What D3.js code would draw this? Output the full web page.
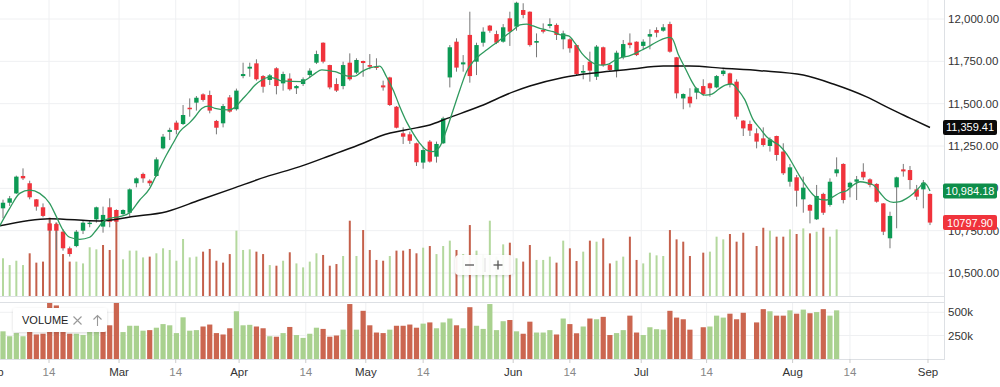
<!DOCTYPE html>
<html>
<head>
<meta charset="utf-8">
<script src="https://cdn.jsdelivr.net/npm/d3@7"></script>
<style>
  html, body { margin: 0; padding: 0; background: #fff; }
  svg { display: block; font-family: "Liberation Sans", Arial, sans-serif; }
</style>
</head>
<body>
<svg id="chart" width="1000" height="387"></svg>
<script>
// Candle data, one entry per trading session (index 0..139)
const opens = [10882,10915,10970,11073,11030,10935,10888,10793,10789,10744,
  10646,10659,10750,10789,10817,10774,10888,10872,10848,10856,
  11030,11085,11045,11073,11236,11333,11388,11380,11476,11506,
  11555,11551,11398,11384,11537,11467,11663,11707,11738,11663,
  11640,11709,11620,11648,11591,11616,11669,11742,11860,11728,
  11616,11604,11742,11683,11752,11728,11718,11608,11655,11482,
  11325,11319,11266,11152,11276,11187,11266,11655,11866,11732,
  11906,11748,11860,11961,11911,11866,12004,11955,12053,12043,
  11860,11935,11959,11965,11880,11880,11846,11683,11748,11659,
  11833,11728,11695,11774,11860,11866,11841,11896,11935,11931,
  11970,11774,11531,11541,11565,11604,11620,11596,11675,11679,
  11630,11400,11380,11325,11295,11250,11309,11217,11039,11065,
  10935,10902,10817,10967,10902,11089,11144,11006,11039,11098,
  11053,11026,10911,10705,11006,11112,11108,10994,10994,10967];
const highs = [10933,10955,11075,11118,11045,10937,10911,10813,10797,10758,
  10656,10754,10809,10809,10892,10892,10941,10876,10876,11000,
  11065,11093,11053,11183,11321,11358,11400,11492,11531,11545,
  11561,11577,11404,11498,11551,11589,11742,11742,11762,11669,
  11675,11715,11689,11679,11610,11655,11709,11813,11862,11730,
  11650,11748,11797,11768,11754,11793,11768,11636,11659,11486,
  11360,11335,11270,11246,11285,11276,11423,11846,11886,11787,
  12043,11860,11951,11965,11931,11970,12043,12102,12093,12045,
  11915,11974,12004,11974,11931,11886,11848,11728,11807,11846,
  11837,11738,11813,11876,11915,11868,11880,11939,11951,11970,
  11984,11776,11561,11591,11596,11644,11624,11669,11703,11683,
  11644,11402,11400,11354,11360,11301,11311,11266,11144,11079,
  11069,10907,11020,10974,11059,11183,11148,11039,11073,11148,
  11059,11030,10913,10862,11069,11144,11132,11020,11049,10970];
const lows = [10823,10896,10967,11049,10935,10868,10829,10734,10636,10632,
  10597,10652,10730,10770,10797,10738,10770,10797,10843,10833,
  11006,11033,11014,11069,11230,11285,11319,11374,11423,11459,
  11512,11443,11319,11360,11447,11459,11650,11659,11636,11565,
  11610,11555,11577,11577,11557,11604,11655,11734,11738,11585,
  11569,11585,11636,11675,11659,11703,11699,11577,11486,11354,
  11262,11262,11132,11116,11152,11152,11262,11596,11689,11689,
  11624,11669,11837,11919,11852,11860,11841,11931,12004,11837,
  11774,11915,11945,11876,11821,11801,11669,11644,11630,11640,
  11718,11689,11655,11762,11827,11781,11821,11821,11892,11925,
  11801,11531,11467,11478,11526,11545,11541,11591,11663,11596,
  11407,11309,11309,11236,11246,11217,11163,11079,11010,10892,
  10856,10793,10813,10843,10892,11069,10911,10947,10931,11049,
  11006,10915,10724,10646,10764,11069,10994,10931,10882,10783];
const closes = [10915,10941,11069,11059,10947,10892,10837,10750,10750,10646,
  10612,10744,10797,10797,10888,10843,10803,10803,10872,10994,
  11059,11059,11030,11171,11305,11345,11345,11433,11467,11535,
  11522,11459,11358,11486,11453,11577,11675,11718,11644,11600,
  11667,11604,11675,11585,11604,11644,11695,11793,11748,11596,
  11577,11728,11644,11758,11740,11718,11711,11596,11492,11358,
  11305,11281,11154,11226,11158,11262,11413,11833,11713,11744,
  11663,11846,11925,11931,11860,11951,11925,12096,12024,11846,
  11870,11925,11970,11906,11915,11827,11675,11693,11695,11837,
  11728,11699,11801,11852,11846,11787,11866,11911,11919,11951,
  11807,11561,11557,11502,11591,11557,11591,11663,11695,11616,
  11423,11354,11341,11276,11256,11289,11197,11089,11124,10986,
  11004,10868,10955,10856,11039,11112,10931,11033,11053,11065,
  11020,10921,10744,10837,11065,11100,11049,10951,11033,10797.90];

// Volume (null = no print that session); volUp: 1 = green bar, 0 = red bar
const volumes = [295,242,276,242,334,261,269,613,574,328,
  269,269,255,381,365,399,360,673,287,355,
  355,302,308,334,373,360,276,446,302,308,
  347,368,276,261,328,511,360,365,347,328,
  242,237,276,342,255,224,269,334,321,237,
  250,313,589,313,516,360,282,276,313,355,
  355,368,334,378,391,328,391,433,360,328,
  555,355,321,589,308,404,417,295,269,399,
  282,282,308,261,433,373,274,347,433,425,
  451,255,276,308,464,282,255,339,318,313,
  516,443,425,313,null,339,347,464,443,485,
  425,495,null,391,534,511,464,464,521,485,
  529,490,503,534,464,521].map(v => v === null ? null : v * 1000);
const volUp = [1,1,1,1,0,0,0,0,0,0, 0,1,1,1,1,0,0,0,1,1,
  1,1,0,1,1,1,1,1,1,1, 0,0,0,0,0,1,1,1,0,0,
  1,0,1,0,1,1,1,1,0,0, 0,1,0,1,0,0,0,0,1,0,
  0,0,0,1,0,1,1,1,0,1, 0,1,1,1,1,1,0,1,0,0,
  1,1,1,0,1,0,0,1,0,1, 0,0,1,1,0,0,1,1,1,1,
  0,0,0,0,0,0,1,1,1,0, 0,0,0,0,0,1,0,0,1,0,
  1,0,1,0,1,1];

// Moving averages: [session index, value]
const maFast = [[-0.5,10778],[1,10882],[2.5,10970],[4,10990],[5.5,10970],[7,10911],[8,10833],[9,10754],
  [10,10711],[11.5,10699],[13,10711],[14,10754],[15,10803],[16,10823],[17.5,10833],[19,10856],
  [20.5,10931],[22,11000],[23,11079],[24.5,11197],[25.5,11266],[26.5,11335],[28,11388],[28.8,11423],
  [29.8,11472],[30.8,11486],[31.8,11472],[33.8,11463],[34.8,11478],[35.8,11522],[36.8,11565],
  [37.8,11610],[38.8,11640],[39.8,11655],[40.8,11650],[41.8,11634],[44.8,11630],[45.8,11650],
  [46.8,11679],[47.8,11699],[48.8,11695],[49.8,11689],[50.8,11675],[51.8,11663],[52.8,11663],
  [53.8,11689],[54.8,11709],[55.8,11718],[56.5,11722],[57.5,11659],[58.5,11581],[59.5,11482],
  [60.5,11394],[61.5,11325],[62.5,11266],[63.5,11226],[64.5,11217],[65.5,11246],[66.5,11345],
  [67.5,11463],[68.5,11581],[69.5,11689],[70.5,11748],[71.5,11787],[72.5,11817],[73.5,11846],
  [74.5,11876],[75.5,11906],[76.5,11935],[77.5,11965],[78.5,11970],[79.5,11959],[80.5,11945],
  [81.5,11935],[82.5,11925],[83.5,11908],[84.8,11900],[85.8,11856],[86.8,11797],[87.8,11758],
  [88.8,11734],[89.8,11728],[90.8,11734],[91.8,11758],[92.8,11774],[93.8,11781],[94.8,11797],
  [95.8,11817],[96.8,11837],[97.8,11860],[98.8,11880],[99.8,11892],[100.3,11886],[101.3,11787],
  [102.3,11709],[103.3,11630],[104.3,11571],[105.3,11551],[106.3,11557],[107.3,11585],[108.3,11610],
  [109.3,11616],[110.2,11581],[111.2,11525],[112.5,11404],[113.5,11354],[114.5,11305],[115.5,11276],
  [116.5,11250],[117.5,11203],[118.5,11138],[119.5,11069],[120.5,11010],[121.5,10961],[122.5,10935],
  [123.5,10931],[124.5,10951],[125.5,10974],[126.5,10986],[127.5,11020],[128.5,11039],[129.5,11033],
  [130.5,11020],[131.5,10974],[132.5,10931],[133.5,10917],[134.5,10921],[135.5,10941],[136.5,10970],
  [137.5,11010],[138,11033],[138.5,11020],[139,10984.18]];
const maSlow = [[-0.5,10778],[7,10821],[14.5,10807],[19.5,10833],[24.5,10862],[29.5,10931],[34.5,11000],
  [39.5,11069],[44.5,11128],[49.5,11200],[54,11266],[56.6,11309],[61.6,11354],[64,11374],[66.6,11413],
  [71.6,11486],[76.6,11571],[79,11604],[84,11655],[89,11683],[94,11703],[99,11722],[103,11722],
  [108,11709],[113.5,11695],[120,11669],[124.5,11616],[129.5,11540],[133.4,11463],[136,11415],[139,11359.41]];

const priceTicks = [10500, 10750, 11000, 11250, 11500, 11750, 12000];
const volTicks = [250000, 500000];
// time axis labels placed at session index
const timeTicks = [
  {i: -1.4, label: "Feb", month: true}, {i: 6.9, label: "14"}, {i: 17.4, label: "Mar", month: true},
  {i: 25.9, label: "14"}, {i: 35.4, label: "Apr", month: true}, {i: 45.4, label: "14"},
  {i: 54.4, label: "May", month: true}, {i: 63.0, label: "14"}, {i: 76.5, label: "Jun", month: true},
  {i: 85.0, label: "14"}, {i: 95.7, label: "Jul", month: true}, {i: 105.5, label: "14"},
  {i: 118.4, label: "Aug", month: true}, {i: 127.0, label: "14"}, {i: 138.7, label: "Sep", month: true}
];

const candles = opens.map((o, i) => ({i, o, h: highs[i], l: lows[i], c: closes[i]}));
const vols = volumes.map((v, i) => ({i, v, up: volUp[i]})).filter(d => d.v !== null);

// Layout
const plotRight = 944, mainBottom = 296, lowTop = 303, lowBottom = 359;
const UP = "#0c9a54", DOWN = "#f0333c";

const svg = d3.select("#chart");
const defs = svg.append("defs");
defs.append("clipPath").attr("id", "clipMain")
  .append("rect").attr("x", 0).attr("y", 0).attr("width", plotRight).attr("height", mainBottom);
defs.append("clipPath").attr("id", "clipLow")
  .append("rect").attr("x", 0).attr("y", lowTop).attr("width", plotRight).attr("height", lowBottom - lowTop);
const shadow = defs.append("filter").attr("id", "shadow")
  .attr("x", "-20%").attr("y", "-40%").attr("width", "140%").attr("height", "180%");
shadow.append("feDropShadow").attr("dx", 0).attr("dy", 1).attr("stdDeviation", 1.5)
  .attr("flood-color", "#000").attr("flood-opacity", 0.15);

// Scales
const x = d3.scaleLinear().domain([0, 139]).range([3, 930]);
const y = d3.scaleLinear().domain([10500, 12000]).range([273, 19]);
const yVolMain = d3.scaleLinear().domain([0, 600000]).range([mainBottom, 219.3]);
const yVol = d3.scaleLinear().domain([0, 500000]).range([358.7, 312.3]);

// Grid
const grid = svg.append("g");
grid.selectAll(".hg").data(priceTicks).enter().append("line")
  .attr("x1", 0).attr("x2", plotRight)
  .attr("y1", d => y(d)).attr("y2", d => y(d))
  .attr("stroke", "#eff0f2").attr("stroke-width", 1);
grid.selectAll(".vg").data(volTicks).enter().append("line")
  .attr("x1", 0).attr("x2", plotRight)
  .attr("y1", d => yVol(d)).attr("y2", d => yVol(d))
  .attr("stroke", "#eff0f2").attr("stroke-width", 1);
const visibleTicks = timeTicks.filter(t => x(t.i) > 0 && x(t.i) < plotRight);
grid.selectAll(".tg").data(visibleTicks).enter().append("line")
  .attr("x1", d => x(d.i)).attr("x2", d => x(d.i))
  .attr("y1", 0).attr("y2", mainBottom)
  .attr("stroke", "#eff0f2");
grid.selectAll(".tg2").data(visibleTicks).enter().append("line")
  .attr("x1", d => x(d.i)).attr("x2", d => x(d.i))
  .attr("y1", lowTop).attr("y2", lowBottom)
  .attr("stroke", "#eff0f2");

// Volume overlay in the price panel
const main = svg.append("g").attr("clip-path", "url(#clipMain)");
main.selectAll(".vbar").data(vols).enter().append("rect")
  .attr("x", d => x(d.i) - 1).attr("width", 2)
  .attr("y", d => yVolMain(d.v))
  .attr("height", d => mainBottom - yVolMain(d.v))
  .attr("fill", d => d.up ? "#b4d89e" : "#c4604b");

// Candles
const cg = main.append("g");
cg.selectAll(".wick").data(candles).enter().append("line")
  .attr("x1", d => x(d.i)).attr("x2", d => x(d.i))
  .attr("y1", d => y(d.h)).attr("y2", d => y(d.l))
  .attr("stroke", "#777").attr("stroke-width", 1);
cg.selectAll(".body").data(candles).enter().append("rect")
  .attr("x", d => x(d.i) - 2.2).attr("width", 4.4)
  .attr("y", d => y(Math.max(d.o, d.c)))
  .attr("height", d => Math.max(1.2, Math.abs(y(d.o) - y(d.c))))
  .attr("fill", d => d.c >= d.o ? UP : DOWN);

// Moving averages
const line = d3.line().x(d => x(d[0])).y(d => y(d[1])).curve(d3.curveMonotoneX);
main.append("path").datum(maSlow)
  .attr("fill", "none").attr("stroke", "#111").attr("stroke-width", 1.5).attr("d", line);
main.append("path").datum(maFast)
  .attr("fill", "none").attr("stroke", "#2f9a5e").attr("stroke-width", 1.3).attr("d", line);

// Lower volume panel
const low = svg.append("g").attr("clip-path", "url(#clipLow)");
low.selectAll(".lbar").data(vols).enter().append("rect")
  .attr("x", d => x(d.i) - 2.6).attr("width", 5.2)
  .attr("y", d => yVol(d.v))
  .attr("height", d => lowBottom - yVol(d.v))
  .attr("fill", d => d.up ? "#a9d18f" : "#cb6650");

// Frame lines
svg.append("line").attr("x1", 0).attr("x2", plotRight).attr("y1", mainBottom + 0.5).attr("y2", mainBottom + 0.5)
  .attr("stroke", "#dde0e4");
svg.append("line").attr("x1", 0).attr("x2", plotRight).attr("y1", lowTop - 0.5).attr("y2", lowTop - 0.5)
  .attr("stroke", "#dde0e4");
svg.append("line").attr("x1", 0).attr("x2", plotRight).attr("y1", lowBottom + 0.5).attr("y2", lowBottom + 0.5)
  .attr("stroke", "#dde0e4");
svg.append("line").attr("x1", plotRight + 0.5).attr("x2", plotRight + 0.5).attr("y1", 0).attr("y2", lowBottom + 1)
  .attr("stroke", "#dde0e4");

// Right price axis
const fmtPrice = d3.format(",.2f");
svg.selectAll(".plab").data(priceTicks).enter().append("text")
  .attr("x", 948).attr("y", d => y(d) + 4)
  .attr("font-size", 11.5).attr("fill", "#333")
  .text(d => fmtPrice(d));
svg.selectAll(".vlab").data(volTicks).enter().append("text")
  .attr("x", 948).attr("y", d => yVol(d) + 4)
  .attr("font-size", 11.5).attr("fill", "#333")
  .text(d => d3.format("~s")(d));

// Time axis
svg.selectAll(".tick").data(visibleTicks).enter().append("line")
  .attr("x1", d => x(d.i)).attr("x2", d => x(d.i))
  .attr("y1", lowBottom).attr("y2", lowBottom + 4)
  .attr("stroke", "#ccc");
svg.selectAll(".tlab").data(timeTicks).enter().append("text")
  .attr("x", d => x(d.i)).attr("y", 376)
  .attr("text-anchor", "middle").attr("font-size", 11.5)
  .attr("fill", d => d.month ? "#333" : "#888")
  .text(d => d.label);

// Last-value badges
const lastClose = closes[closes.length - 1];
const badges = [
  {v: maSlow[maSlow.length - 1][1], fill: "#0b0b0b", text: fmtPrice(maSlow[maSlow.length - 1][1])},
  {v: maFast[maFast.length - 1][1], fill: "#0e8e4a", text: fmtPrice(maFast[maFast.length - 1][1])},
  {v: lastClose, fill: "#f0343c", text: d3.format(".2f")(lastClose)}
];
const bg = svg.selectAll(".badge").data(badges).enter().append("g");
bg.append("rect")
  .attr("x", 943).attr("width", 54).attr("height", 15)
  .attr("y", d => y(d.v) - 7.5).attr("rx", 2)
  .attr("fill", d => d.fill);
bg.append("text")
  .attr("x", 970).attr("y", d => y(d.v) + 4)
  .attr("text-anchor", "middle")
  .attr("font-size", 11).attr("fill", "#fff")
  .text(d => d.text);

// Zoom control
const zc = svg.append("g");
zc.append("rect").attr("x", 455).attr("y", 255).attr("width", 58).attr("height", 20).attr("rx", 4)
  .attr("fill", "#fff").attr("fill-opacity", 0.92).attr("filter", "url(#shadow)");
zc.append("line").attr("x1", 465).attr("x2", 474).attr("y1", 265).attr("y2", 265).attr("stroke", "#555").attr("stroke-width", 1.3);
zc.append("line").attr("x1", 485).attr("x2", 485).attr("y1", 258).attr("y2", 272).attr("stroke", "#ddd");
zc.append("line").attr("x1", 493.5).attr("x2", 502.5).attr("y1", 265).attr("y2", 265).attr("stroke", "#555").attr("stroke-width", 1.3);
zc.append("line").attr("x1", 498).attr("x2", 498).attr("y1", 260.5).attr("y2", 269.5).attr("stroke", "#555").attr("stroke-width", 1.3);

// Volume legend
const lg = svg.append("g");
lg.append("rect").attr("x", 13).attr("y", 308).attr("width", 94).attr("height", 24).attr("rx", 3)
  .attr("fill", "#fff").attr("filter", "url(#shadow)");
lg.append("text").attr("x", 22).attr("y", 324).attr("font-size", 11).attr("fill", "#222").text("VOLUME");
lg.append("path").attr("d", "M73.5,316.5 L81.5,324.5 M81.5,316.5 L73.5,324.5")
  .attr("stroke", "#999").attr("stroke-width", 1.1).attr("fill", "none");
lg.append("path").attr("d", "M97.5,315.5 L97.5,326 M93.5,319.5 L97.5,315.5 L101.5,319.5")
  .attr("stroke", "#999").attr("stroke-width", 1.1).attr("fill", "none");
</script>
</body>
</html>
